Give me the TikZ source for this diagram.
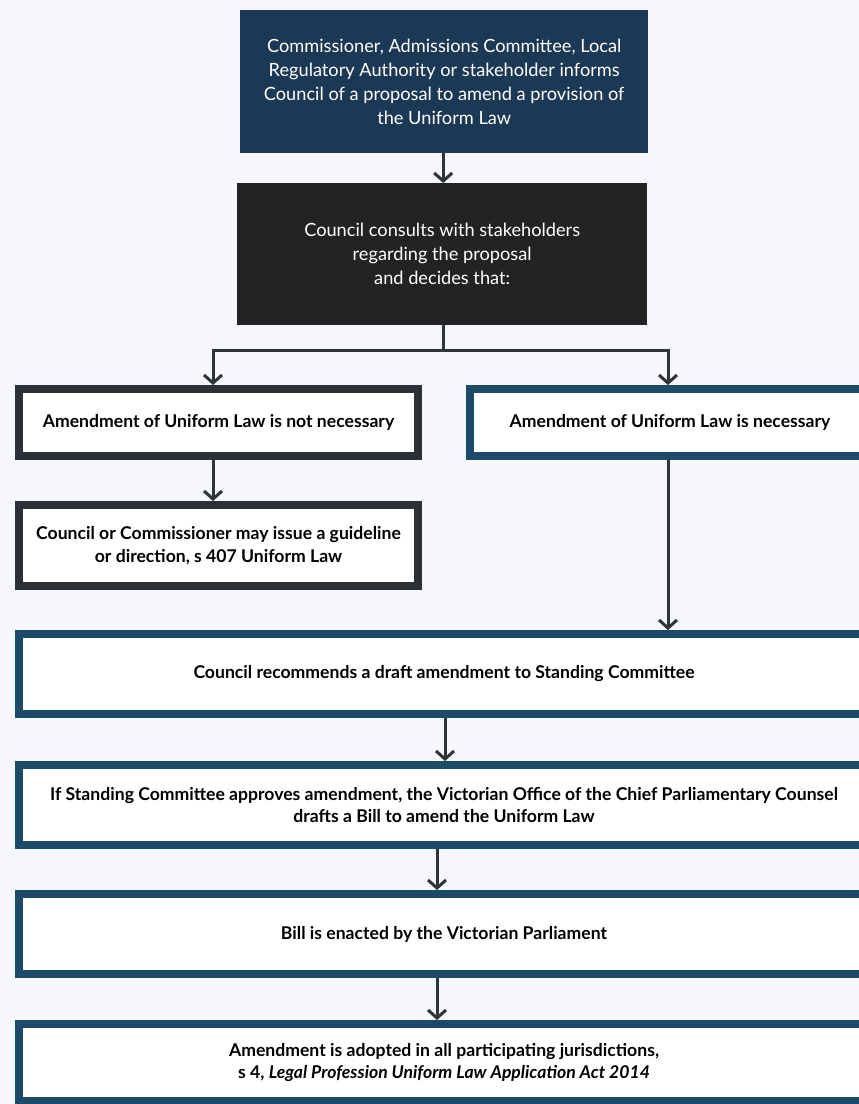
\documentclass[tikz,border=0pt]{standalone}
\usepackage{fontspec}
\setmainfont{Lato}
\usetikzlibrary{arrows.meta}
\definecolor{navyfill}{HTML}{1B3954}
\definecolor{darkfill}{HTML}{222324}
\definecolor{greyline}{HTML}{2C3037}
\definecolor{navyline}{HTML}{1E4A6A}
\definecolor{arrowc}{HTML}{303338}
\definecolor{paper}{HTML}{F6F7FB}
\tikzset{
  darkbox/.style={rectangle, inner sep=0pt, text=white, align=center,
    font=\fontsize{18.2}{24}\selectfont, anchor=north west},
  lbox/.style={rectangle, draw=greyline, line width=8pt, fill=white, align=center,
    font=\bfseries\fontsize{17.6}{22.5}\selectfont, anchor=north west, inner sep=0pt},
  nbox/.style={lbox, draw=navyline},
  conn/.style={draw=arrowc, line width=3pt},
  arr/.style={conn, -{Straight Barb[length=8pt,width=18pt,line width=3pt]}}
}
\begin{document}
\begin{tikzpicture}[x=1pt,y=-1pt]
\useasboundingbox (0,0) rectangle (859,1104);
\clip (0,0) rectangle (859,1104);
\fill[paper] (0,0) rectangle (859,1104);
% dark boxes
\node[darkbox, fill=navyfill, minimum width=408pt, minimum height=143pt] (b1) at (240,10)
  {Commissioner, Admissions Committee, Local\\Regulatory Authority or stakeholder informs\\Council of a proposal to amend a provision of\\the Uniform Law};
\node[darkbox, fill=darkfill, minimum width=410pt, minimum height=142pt] (b2) at (237,183)
  {Council consults with stakeholders\\regarding the proposal\\and decides that:};
% white boxes
\node[lbox, minimum width=399pt, minimum height=67pt] (b3l) at (15,385)
  {Amendment of Uniform Law is not necessary};
\node[nbox, minimum width=400pt, minimum height=67pt] (b3r) at (466,385)
  {Amendment of Uniform Law is necessary};
\node[lbox, minimum width=399pt, minimum height=81pt] (b4l) at (15,501)
  {Council or Commissioner may issue a guideline\\or direction, s 407 Uniform Law};
\node[nbox, minimum width=850pt, minimum height=80pt] (b5) at (15,630)
  {Council recommends a draft amendment to Standing Committee};
\node[nbox, minimum width=850pt, minimum height=80pt] (b6) at (15,761)
  {If Standing Committee approves amendment, the Victorian Office of the Chief Parliamentary Counsel\\drafts a Bill to amend the Uniform Law};
\node[nbox, minimum width=850pt, minimum height=80pt] (b7) at (15,890)
  {Bill is enacted by the Victorian Parliament};
\node[nbox, minimum width=850pt, minimum height=77pt] (b8) at (15,1020)
  {Amendment is adopted in all participating jurisdictions,\\s 4, \textit{Legal Profession Uniform Law Application Act 2014}};
% connectors
\coordinate (split) at (443,350);
\coordinate (sl) at (213,350);
\coordinate (sr) at (668,350);
\draw[arr] ([xshift=-1pt]b1.south) -- ([xshift=-1pt]b1.south |- b2.north);
\draw[conn] (b2.south -| split) -- (split);
\draw[conn, line cap=rect] (sl) -- (sr);
\draw[arr] (sl) -- (sl |- b3l.north);
\draw[arr] (sr) -- (sr |- b3r.north);
\draw[arr] (b3l.south -| sl) -- (sl |- b4l.north);
\draw[arr] (b3r.south -| sr) -- (sr |- b5.north);
\draw[arr] ([xshift=1pt]b5.south) -- ([xshift=1pt]b5.south |- b6.north);
\draw[arr] ([xshift=-7pt]b6.south) -- ([xshift=-7pt]b6.south |- b7.north);
\draw[arr] ([xshift=-7pt]b7.south) -- ([xshift=-7pt]b7.south |- b8.north);
\end{tikzpicture}
\end{document}
